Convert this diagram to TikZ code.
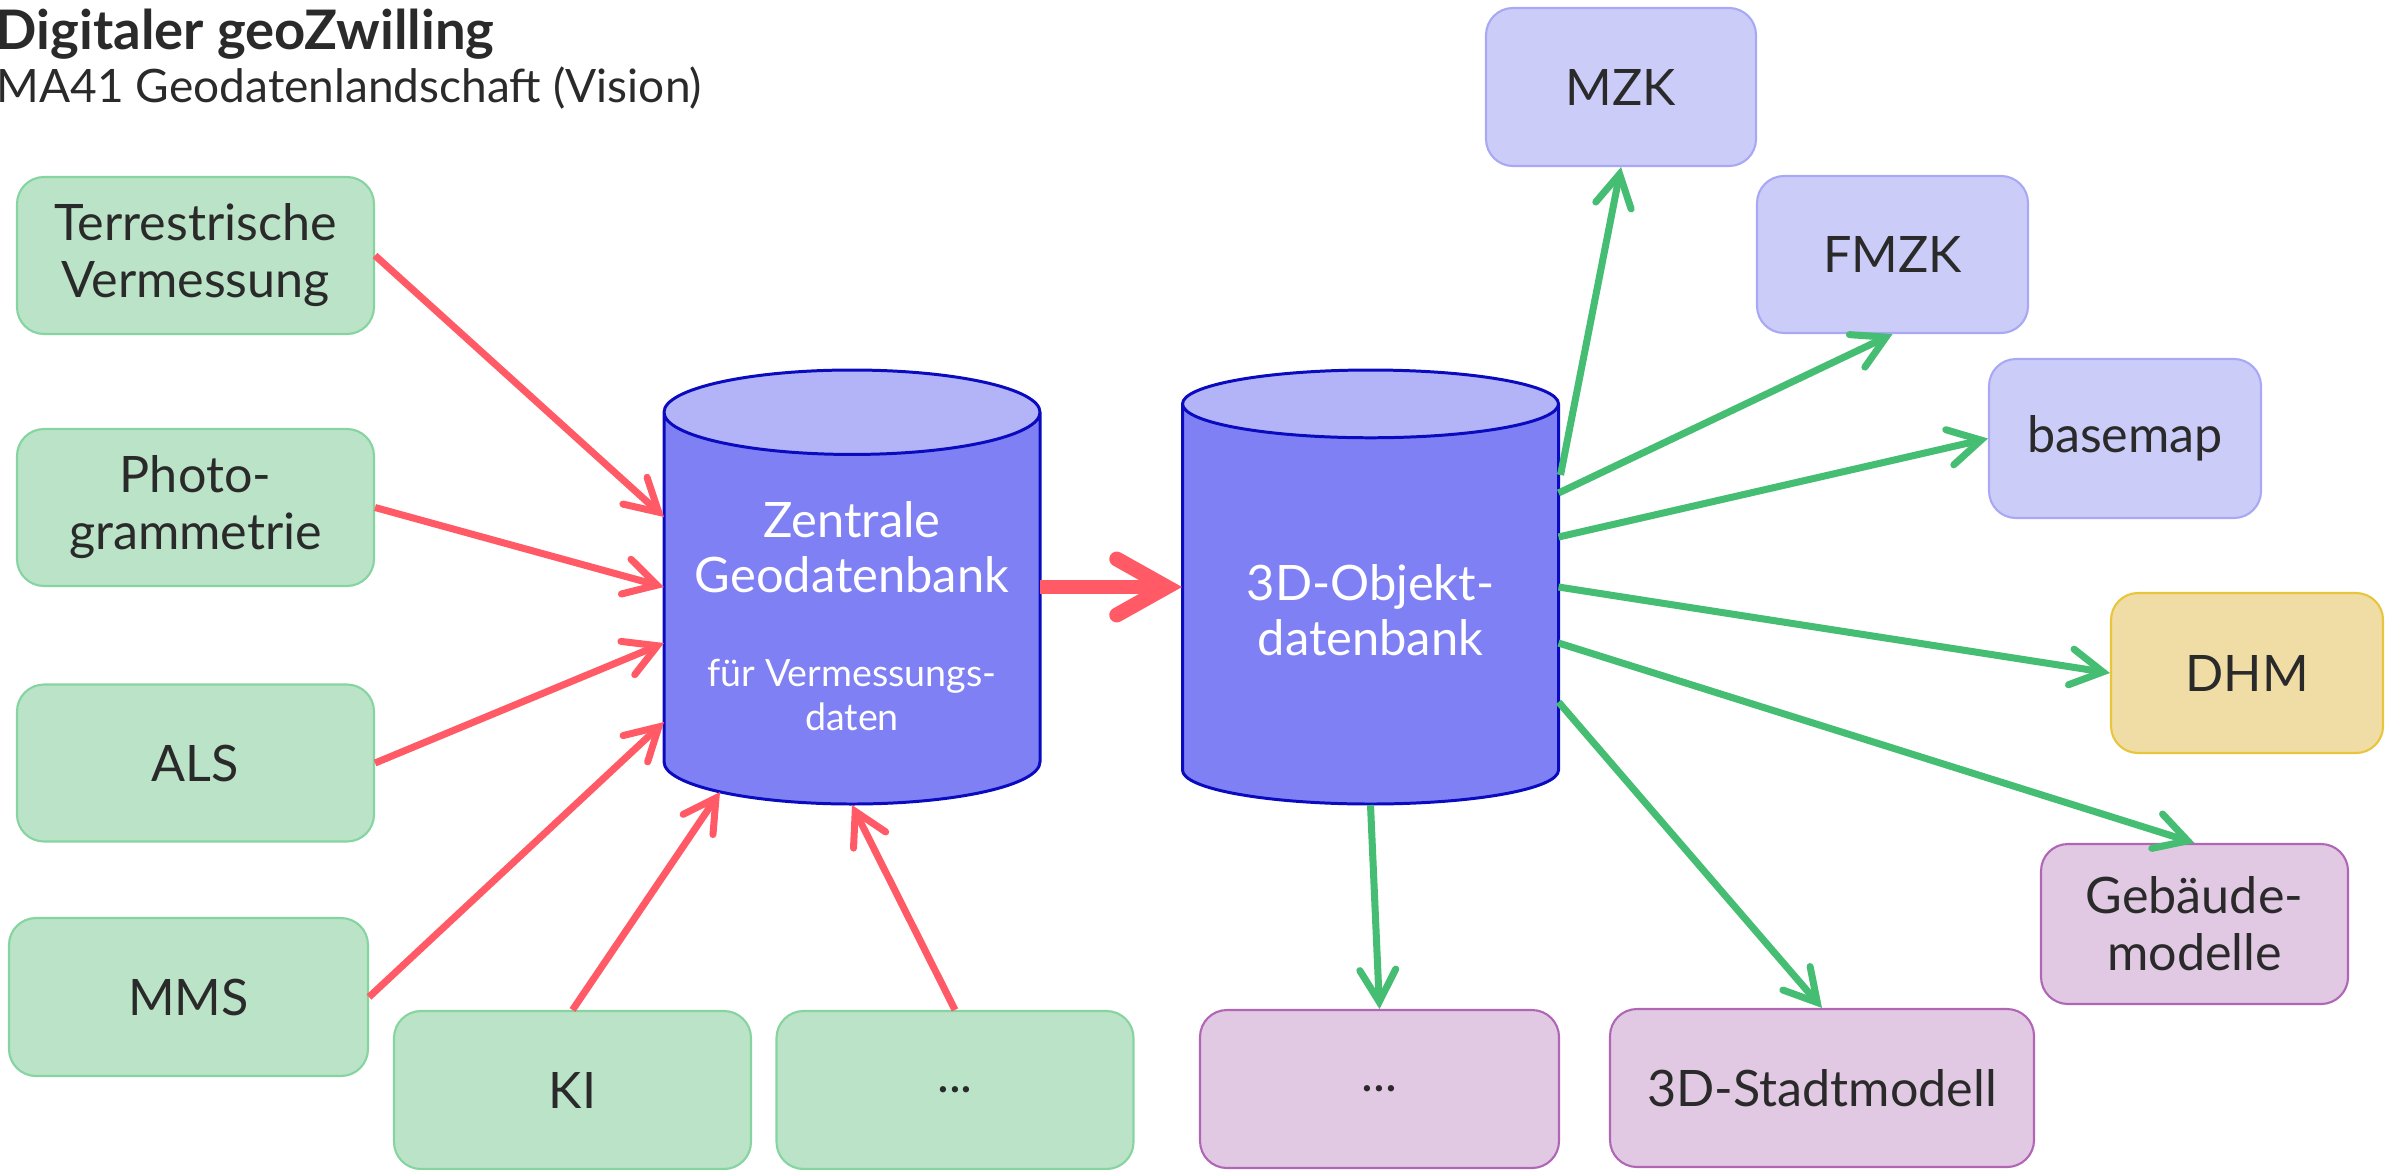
\documentclass[tikz,border=0pt]{standalone}
\usepackage{fontspec}
\setmainfont{Lato}
\usetikzlibrary{shapes.geometric,arrows.meta}

\definecolor{ink}{HTML}{2A2A2A}
\definecolor{srcfill}{HTML}{BAE3C8}
\definecolor{srcdraw}{HTML}{86D4A0}
\definecolor{mapfill}{HTML}{CCCCF9}
\definecolor{mapdraw}{HTML}{A8A8F4}
\definecolor{dhmfill}{HTML}{F0DDA5}
\definecolor{dhmdraw}{HTML}{E8C53A}
\definecolor{modfill}{HTML}{E2C9E3}
\definecolor{moddraw}{HTML}{B066B5}
\definecolor{cyltop}{HTML}{B3B3F8}
\definecolor{cylbody}{HTML}{8080F5}
\definecolor{cyldraw}{HTML}{0A0ABF}
\definecolor{feedred}{HTML}{FF5A65}
\definecolor{outgreen}{HTML}{45BD72}

\begin{document}
\begin{tikzpicture}[
  box/.style={rectangle, rounded corners=0.27cm, line width=0.6pt, align=center, text=ink, inner sep=0pt, font=\fontsize{14.3}{16.2}\selectfont},
  source/.style={box, fill=srcfill, draw=srcdraw, minimum width=3.57cm, minimum height=1.57cm},
  mapbox/.style={box, fill=mapfill, draw=mapdraw, minimum width=2.71cm, minimum height=1.58cm},
  dhmbox/.style={box, fill=dhmfill, draw=dhmdraw, minimum width=2.72cm, minimum height=1.60cm},
  model/.style={box, fill=modfill, draw=moddraw, minimum height=1.58cm},
  db/.style={cylinder, shape border rotate=90, aspect=0.25, draw=cyldraw, line width=0.85pt, cylinder uses custom fill, cylinder end fill=cyltop, cylinder body fill=cylbody, minimum width=3.76cm, minimum height=4.34cm, align=center, text=white, anchor=shape center, font=\fontsize{13.9}{15.6}\selectfont},
  feed/.style={-{Straight Barb[length=3.2mm, width=3.6mm, line cap=round, line join=miter]}, draw=feedred, line width=2pt},
  deliver/.style={-{Straight Barb[length=3.2mm, width=3.6mm, line cap=round, line join=miter]}, draw=outgreen, line width=2pt},
  transfer/.style={-{Straight Barb[length=5mm, width=5.6mm, line cap=round, line join=miter]}, draw=feedred, line width=4.25pt}
]
\useasboundingbox (0,0) rectangle (23.94,-11.69);

% Title
\node[anchor=base west, inner sep=0pt, text=ink, font=\bfseries\fontsize{15.5}{18}\selectfont] (title) at (-0.05,-0.50) {Digitaler geoZwilling};
\node[anchor=base west, inner sep=0pt, text=ink, font=\fontsize{13.1}{15}\selectfont] (subtitle) at (-0.04,-1.02) {MA41 Geodatenlandschaft (Vision)};

% Data sources
\node[source] (terr) at (1.955,-2.555) {Terrestrische\\Vermessung};
\node[source] (photo) at (1.955,-5.075) {Photo-\\grammetrie};
\node[source] (als) at (1.955,-7.63) {ALS};
\node[source, minimum width=3.59cm, minimum height=1.58cm] (mms) at (1.885,-9.97) {MMS};
\node[source, minimum height=1.58cm] (ki) at (5.725,-10.90) {KI};
\node[source, minimum height=1.58cm] (moresrc) at (9.55,-10.90) {...};

% Databases
\node[db] (zgdb) at (8.52,-5.87) {Zentrale\\Geodatenbank\\[0.4cm]{\fontsize{10.7}{12.5}\selectfont für Vermessungs-}\\[-0.11cm]{\fontsize{10.7}{12.5}\selectfont daten}};
\node[db] (objdb) at (13.705,-5.87) {3D-Objekt-\\datenbank};

% Products
\node[mapbox, minimum width=2.70cm] (mzk) at (16.21,-0.87) {MZK};
\node[mapbox, minimum height=1.57cm] (fmzk) at (18.925,-2.545) {FMZK};
\node[mapbox, minimum width=2.72cm, minimum height=1.59cm] (basemap) at (21.25,-4.385) {basemap};
\node[dhmbox] (dhm) at (22.47,-6.73) {DHM};
\node[model, minimum width=3.07cm, minimum height=1.60cm] (gebaeude) at (21.945,-9.24) {Gebäude-\\modelle};
\node[model, minimum width=3.59cm] (moreprod) at (13.795,-10.89) {...};
\node[model, minimum width=4.24cm] (stadt) at (18.22,-10.88) {3D-Stadtmodell};

% Feeds
\draw[feed] (terr.east) -- ([shift={(-1.88,0.70)}]zgdb.shape center);
\draw[feed] (photo.east) -- ([shift={(-1.88,0)}]zgdb.shape center);
\draw[feed] (als.east) -- ([shift={(-1.88,-0.56)}]zgdb.shape center);
\draw[feed] (mms.east) -- ([shift={(-1.88,-1.35)}]zgdb.shape center);
\draw[feed] (ki.north) -- ([shift={(-1.32,-2.05)}]zgdb.shape center);
\draw[feed] (moresrc.north) -- ([shift={(0,-2.18)}]zgdb.shape center);

% Transfer
\draw[transfer] ([shift={(1.88,0)}]zgdb.shape center) -- ([shift={(-1.885,0)}]objdb.shape center);

% Products
\draw[deliver] ([shift={(1.90,1.12)}]objdb.shape center) -- (mzk.south);
\draw[deliver] ([shift={(1.88,0.94)}]objdb.shape center) -- (fmzk.south);
\draw[deliver] ([shift={(1.88,0.50)}]objdb.shape center) -- (basemap.west);
\draw[deliver] ([shift={(1.88,0)}]objdb.shape center) -- (dhm.west);
\draw[deliver] ([shift={(1.88,-0.56)}]objdb.shape center) -- (gebaeude.north);
\draw[deliver] ([shift={(1.88,-1.15)}]objdb.shape center) -- (stadt.north);
\draw[deliver] ([shift={(0,-2.18)}]objdb.shape center) -- (moreprod.north);

\end{tikzpicture}
\end{document}
